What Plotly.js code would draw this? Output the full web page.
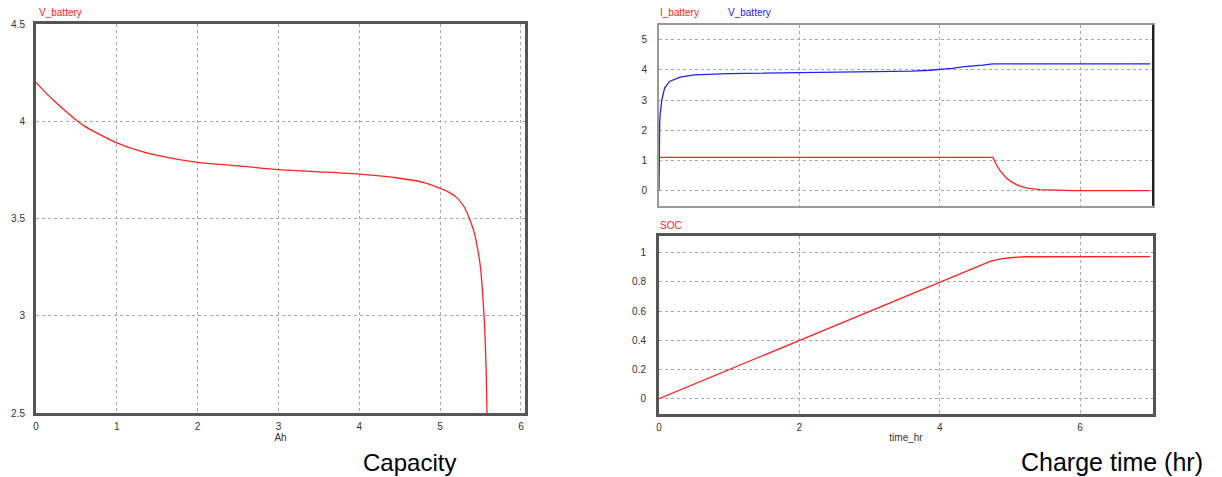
<!DOCTYPE html>
<html>
<head>
<meta charset="utf-8">
<script src="https://cdn.plot.ly/plotly-3.0.1.min.js"></script>
<style>html,body{margin:0;padding:0;background:#fff;}#chart{width:1222px;height:477px;}</style>
</head>
<body>
<div id="chart"></div>
<script>
// Discharge curve (left)
const capacity_Ah = [0, 0.1, 0.25, 0.4, 0.5, 0.6, 0.75, 1.0, 1.25, 1.5, 2.0, 2.5, 3.0, 3.5, 4.0, 4.5, 4.8, 5.0, 5.1, 5.2, 5.3, 5.365, 5.42, 5.47, 5.5, 5.53, 5.55, 5.57, 5.58];
const v_discharge = [4.2, 4.155, 4.095, 4.04, 4.005, 3.975, 3.94, 3.889, 3.852, 3.825, 3.789, 3.771, 3.751, 3.74, 3.728, 3.707, 3.685, 3.655, 3.637, 3.61, 3.558, 3.496, 3.43, 3.33, 3.245, 3.089, 2.95, 2.71, 2.5];

// Charge curves (right)
const t_V = [0, 0.003, 0.01, 0.02, 0.04, 0.08, 0.15, 0.3, 0.5, 1.0, 2.0, 3.0, 3.6, 3.86, 4.05, 4.18, 4.32, 4.51, 4.61, 4.76, 7.0];
const v_charge = [0, 1.5, 2.3, 2.6, 3.0, 3.4, 3.62, 3.76, 3.84, 3.88, 3.91, 3.92, 3.96, 3.99, 4.02, 4.05, 4.10, 4.13, 4.16, 4.2, 4.2];
const t_I = [0, 4.76, 4.8, 4.86, 4.95, 5.03, 5.1, 5.24, 5.43, 5.9, 7.0];
const i_charge = [1.1, 1.1, 0.9, 0.66, 0.42, 0.28, 0.19, 0.08, 0.03, 0.0, 0.0];
const t_soc = [0, 4.72, 4.85, 5.0, 5.2, 5.5, 7.0];
const soc = [0, 0.94, 0.955, 0.965, 0.972, 0.973, 0.973];

const leftXTicks = [0, 1, 2, 3, 4, 5, 6];
const leftYTicks = [2.5, 3, 3.5, 4, 4.5];
const topYTicks = [0, 1, 2, 3, 4, 5];
const botYTicks = [0, 0.2, 0.4, 0.6, 0.8, 1];
const botXTicks = [0, 2, 4, 6];

const W = 1222, H = 477;
const fx = p => p / W;
const fy = p => 1 - p / H;
const RED = '#ff2020', BLUE = '#2020ff';
const FONT = 'Liberation Sans, Arial, sans-serif';
const tickFont = {family: FONT, size: 10, color: '#333'};
const grid = {showgrid: true, gridcolor: '#a8a8a8', griddash: '3px,3px', gridwidth: 1, zeroline: false};

const traces = [
  {x: capacity_Ah, y: v_discharge, xaxis: 'x', yaxis: 'y', mode: 'lines', line: {color: RED, width: 1.3, shape: 'spline', smoothing: 0.6}},
  {x: t_I, y: i_charge, xaxis: 'x2', yaxis: 'y2', mode: 'lines', line: {color: RED, width: 1.3}},
  {x: t_V, y: v_charge, xaxis: 'x2', yaxis: 'y2', mode: 'lines', line: {color: BLUE, width: 1.3}},
  {x: t_soc, y: soc, xaxis: 'x3', yaxis: 'y3', mode: 'lines', line: {color: RED, width: 1.3}}
];

const layout = {
  width: W, height: H,
  margin: {l: 0, r: 0, t: 0, b: 0},
  paper_bgcolor: '#fff', plot_bgcolor: '#fff',
  showlegend: false,
  font: {family: FONT},
  xaxis: Object.assign({domain: [fx(36), fx(525)], range: [0, 6.05], tickvals: leftXTicks, tickfont: tickFont,
    showline: true, mirror: true, linecolor: '#555', linewidth: 3, ticks: 'outside', ticklen: 2, tickcolor: 'rgba(0,0,0,0)',
    title: {text: 'Ah', font: {family: FONT, size: 10, color: '#333'}, standoff: 0}, anchor: 'y'}, grid),
  yaxis: Object.assign({domain: [fy(413), fy(24)], range: [2.5, 4.5], tickvals: leftYTicks, tickfont: tickFont,
    showline: true, mirror: true, linecolor: '#555', linewidth: 3, ticks: 'outside', ticklen: 6, tickcolor: 'rgba(0,0,0,0)', anchor: 'x'}, grid),
  xaxis2: Object.assign({domain: [fx(659), fx(1153)], range: [0, 7.04], tickvals: botXTicks, showticklabels: false,
    showline: true, mirror: true, linecolor: '#999', linewidth: 2, anchor: 'y2'}, grid),
  yaxis2: Object.assign({domain: [fy(205.7), fy(24.7)], range: [-0.5, 5.5], tickvals: topYTicks, tickfont: tickFont,
    showline: true, mirror: true, linecolor: '#999', linewidth: 2, ticks: 'outside', ticklen: 8, tickcolor: 'rgba(0,0,0,0)', anchor: 'x2'}, grid),
  xaxis3: Object.assign({domain: [fx(659), fx(1153)], range: [0, 7.04], tickvals: botXTicks, tickfont: tickFont,
    showline: true, mirror: true, linecolor: '#555', linewidth: 3, ticks: 'outside', ticklen: 2, tickcolor: 'rgba(0,0,0,0)',
    title: {text: 'time_hr', font: {family: FONT, size: 10, color: '#333'}, standoff: 2}, anchor: 'y3'}, grid),
  yaxis3: Object.assign({domain: [fy(414), fy(236)], range: [-0.105, 1.114], tickvals: botYTicks, tickfont: tickFont,
    showline: true, mirror: true, linecolor: '#555', linewidth: 3, ticks: 'outside', ticklen: 8, tickcolor: 'rgba(0,0,0,0)', anchor: 'x3'}, grid),
  shapes: [
    {type: 'line', xref: 'paper', yref: 'paper', x0: fx(1153), x1: fx(1153), y0: fy(205.7), y1: fy(24.7), line: {color: '#222', width: 2}}
  ],
  annotations: [
    {text: 'V_battery', xref: 'paper', yref: 'paper', x: fx(37), y: fy(12.5), xanchor: 'left', yanchor: 'middle', showarrow: false, font: {family: FONT, size: 10, color: RED}},
    {text: 'I_battery', xref: 'paper', yref: 'paper', x: fx(658), y: fy(12.5), xanchor: 'left', yanchor: 'middle', showarrow: false, font: {family: FONT, size: 10, color: RED}},
    {text: 'V_battery', xref: 'paper', yref: 'paper', x: fx(726), y: fy(12.5), xanchor: 'left', yanchor: 'middle', showarrow: false, font: {family: FONT, size: 10, color: BLUE}},
    {text: 'SOC', xref: 'paper', yref: 'paper', x: fx(658), y: fy(225), xanchor: 'left', yanchor: 'middle', showarrow: false, font: {family: FONT, size: 10, color: RED}},
    {text: 'Capacity', xref: 'paper', yref: 'paper', x: fx(410), y: fy(462), xanchor: 'center', yanchor: 'middle', showarrow: false, font: {family: FONT, size: 24, color: '#000'}},
    {text: 'Charge time (hr)', xref: 'paper', yref: 'paper', x: fx(1112), y: fy(462), xanchor: 'center', yanchor: 'middle', showarrow: false, font: {family: FONT, size: 25, color: '#000'}}
  ]
};

Plotly.newPlot('chart', traces, layout, {staticPlot: true, displayModeBar: false});
</script>
</body>
</html>
